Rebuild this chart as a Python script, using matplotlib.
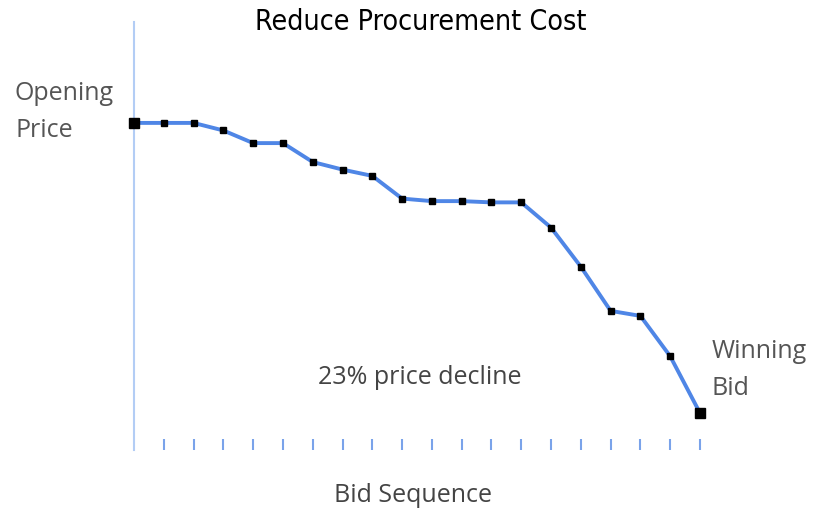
import matplotlib
matplotlib.use("Agg")
import matplotlib.pyplot as plt

# bid sequence (index) and price (opening price = 100)
bids = list(range(20))
prices = [100, 100, 100, 99.4, 98.4, 98.4, 96.9, 96.3, 95.8, 94.0,
          93.8, 93.8, 93.7, 93.7, 91.7, 88.6, 85.1, 84.7, 81.5, 77.0]
title = "Reduce Procurement Cost"
start_label = "Opening\nPrice"
end_label = "Winning\nBid"
note = "23% price decline"
xlabel = "Bid Sequence"

W, H = 825, 512
fig = plt.figure(figsize=(W / 100, H / 100), dpi=100)

def px(x, y):
    return x / W, 1 - y / H

# axes spanning pixel x 134..700, y 22..450
ax = fig.add_axes([134 / W, 1 - 450 / H, (700 - 134) / W, (450 - 22) / H])
ax.set_xlim(0, 19)
ax.set_ylim(74.07, 108.0)

ax.plot(bids, prices, color="#4f86e6", lw=2.8, zorder=2, clip_on=False)
ax.plot(bids[1:-1], prices[1:-1], "s", color="black", ms=3.8, zorder=3, clip_on=False)
ax.plot([bids[0], bids[-1]], [prices[0], prices[-1]], "s", color="black", ms=6.5,
        zorder=3, clip_on=False)

for s in ["top", "right", "bottom"]:
    ax.spines[s].set_visible(False)
ax.spines["left"].set_color("#b3cdf5")
ax.spines["left"].set_linewidth(1.5)
ax.set_yticks([])
ax.set_xticks(bids[1:])
ax.set_xticklabels([])
ax.tick_params(axis="x", direction="in", length=8, width=1.5, color="#7aa3ea")

gray = "#555555"
fig.text(*px(421, 22), title, ha="center", va="center", fontsize=20.5,
         family="DejaVu Sans", stretch="condensed", color="black")
fig.text(*px(15, 112), start_label, ha="left", va="center", fontsize=18,
         family="Open Sans", color=gray, linespacing=1.65)
fig.text(*px(712, 370), end_label, ha="left", va="center", fontsize=18,
         family="Open Sans", color=gray, linespacing=1.65)
fig.text(*px(420, 378), note, ha="center", va="center", fontsize=18,
         family="Open Sans", color="#444444")
fig.text(*px(413, 495), xlabel, ha="center", va="center", fontsize=18,
         family="Open Sans", color="#444444")

fig.savefig("out.png", dpi=100)
